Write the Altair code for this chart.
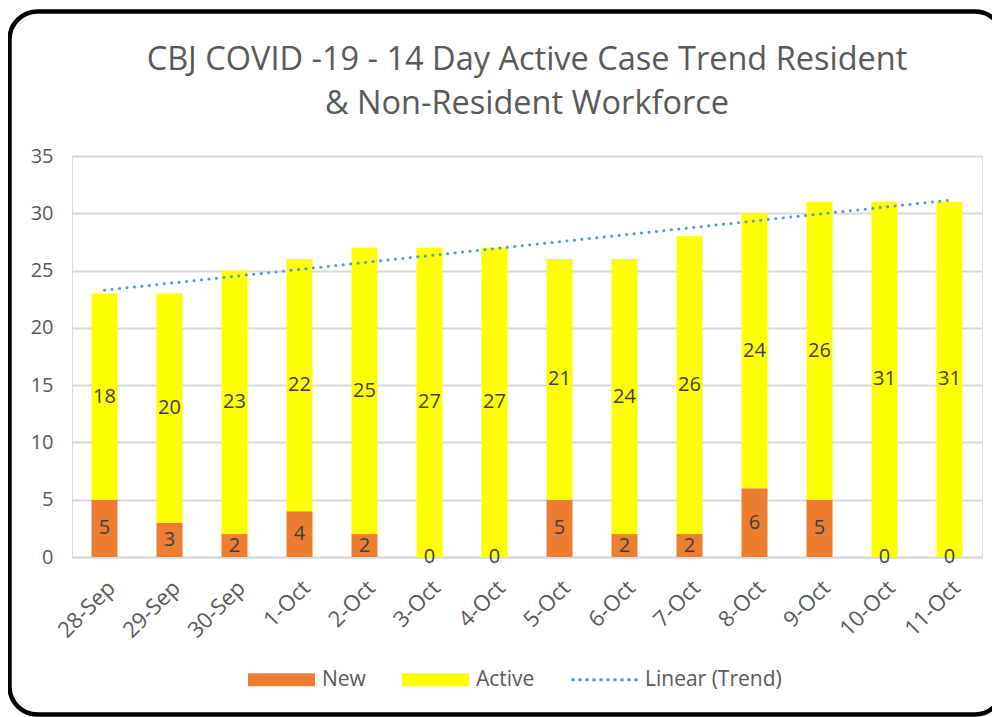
import altair as alt
import pandas as pd

# ---- data ----
dates = ["28-Sep", "29-Sep", "30-Sep", "1-Oct", "2-Oct", "3-Oct", "4-Oct",
         "5-Oct", "6-Oct", "7-Oct", "8-Oct", "9-Oct", "10-Oct", "11-Oct"]
new_cases = [5, 3, 2, 4, 2, 0, 0, 5, 2, 2, 6, 5, 0, 0]
active_cases = [18, 20, 23, 22, 25, 27, 27, 21, 24, 26, 24, 26, 31, 31]
series = ["New", "Active", "Linear (Trend)"]
series_colors = ["#ED7D31", "#FFFF00", "#5B9BD5"]
y_ticks = [0, 5, 10, 15, 20, 25, 30, 35]
title_lines = ["CBJ COVID -19 - 14 Day Active Case Trend Resident",
               "& Non-Resident Workforce"]

df = pd.DataFrame({
    "Date": dates,
    "New": new_cases,
    "Active": active_cases,
    "idx": list(range(len(dates))),
})
date_lookup = alt.Data(values=[{"idx": i, "Date": d} for i, d in enumerate(dates)])

FONT = "Open Sans"
TEXT_GREY = "#595959"
GRID = "#D9D9D9"

x_enc = alt.X(
    "Date:N", sort=dates, title=None,
    scale=alt.Scale(paddingInner=0.6, paddingOuter=0.3),
    axis=alt.Axis(labelAngle=-45, labelFontSize=22, labelColor=TEXT_GREY,
                  labelFont=FONT, ticks=False, domain=True, domainColor=GRID,
                  domainWidth=2, labelPadding=20, grid=False),
)
y_scale = alt.Scale(domain=[0, 35], nice=False)
y_axis = alt.Axis(values=y_ticks, labelFontSize=20, labelColor=TEXT_GREY,
                  labelFont=FONT, ticks=False, domain=False, grid=True,
                  gridColor=GRID, gridWidth=2, labelPadding=19)

base = alt.Chart(df).transform_calculate(
    Total="datum.New + datum.Active",
    NewMid="datum.New / 2",
    ActiveMid="datum.New + datum.Active / 2",
)

bars_new = base.mark_bar(color=series_colors[0]).encode(
    x=x_enc, y=alt.Y("New:Q", scale=y_scale, axis=y_axis, title=None),
)
bars_active = base.mark_bar(color=series_colors[1]).encode(
    x=x_enc, y=alt.Y("Total:Q", scale=y_scale, title=None), y2="New:Q",
)
text_new = base.mark_text(fontSize=20, color="#404040", font=FONT).encode(
    x=x_enc, y=alt.Y("NewMid:Q", scale=y_scale, title=None), text="New:Q",
)
text_active = base.mark_text(fontSize=20, color="#404040", font=FONT).encode(
    x=x_enc, y=alt.Y("ActiveMid:Q", scale=y_scale, title=None), text="Active:Q",
)

trend = (
    base.transform_regression("idx", "Total")
    .transform_lookup(lookup="idx",
                      from_=alt.LookupData(data=date_lookup, key="idx", fields=["Date"]))
    .mark_line(color=series_colors[2], strokeWidth=3, strokeCap="round",
               strokeDash=[0.1, 7.4])
    .encode(x=x_enc, y=alt.Y("Total:Q", scale=y_scale, title=None))
)

# legend symbols (styles only)
half = 33.5
rect_path = "M-1,-0.194H1V0.194H-1Z"
dot_r = 1.6 / half
dot_path = " ".join(
    f"M{(-31.5 + 7 * k) / half - dot_r:.4f},{-dot_r:.4f}h{2 * dot_r:.4f}v{2 * dot_r:.4f}h{-2 * dot_r:.4f}Z"
    for k in range(10)
)

legend = alt.Legend(title=None, orient="none", legendX=176, legendY=490,
                    direction="horizontal", symbolSize=4489, symbolStrokeWidth=0,
                    symbolOpacity=1, labelFontSize=21, labelColor=TEXT_GREY,
                    labelFont=FONT, labelOffset=7, columnPadding=36, padding=0)

legend_layer = alt.Chart(alt.Data(values=[{"Series": s} for s in series])).mark_point(
    filled=True, opacity=0
).encode(
    color=alt.Color("Series:N", scale=alt.Scale(domain=series, range=series_colors),
                    legend=legend, sort=series),
    shape=alt.Shape("Series:N", scale=alt.Scale(domain=series,
                                                range=[rect_path, rect_path, dot_path]),
                    legend=legend, sort=series),
)

border = alt.Chart(alt.Data(values=[{}])).mark_rect(
    fill="transparent", stroke="black", strokeWidth=4.5, cornerRadius=28, clip=False
).encode(
    x=alt.value(-62.5), x2=alt.value(931), y=alt.value(-144.5), y2=alt.value(558.5)
)

chart = alt.layer(
    bars_new, bars_active, trend, text_new, text_active, legend_layer, border
).properties(
    width=910, height=401,
    autosize="none",
    padding={"left": 64, "top": 148, "right": 10, "bottom": 160},
    title=alt.TitleParams(text=title_lines, fontSize=32.5, font=FONT, color=TEXT_GREY,
                          fontWeight="normal", anchor="middle", offset=-111,
                          lineHeight=44),
).configure_view(strokeWidth=0).configure(background="white")

chart.save("out.html", embed_options={"renderer": "svg", "actions": False})
